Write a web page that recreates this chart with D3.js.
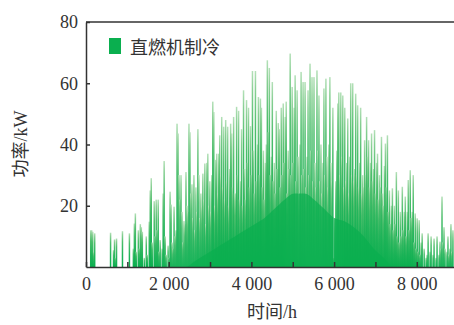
<!DOCTYPE html>
<html>
<head>
<meta charset="utf-8">
<script src="https://cdn.jsdelivr.net/npm/d3@7"></script>
<style>
  body { margin: 0; background: #fff; }
  svg { display: block; }
</style>
</head>
<body>
<div id="chart"></div>
<script>
// daily peak cooling power (kW), one value per 24 h
const dailyPeak = [
  0, 0, 0, 0, 12, 12, 11.5, 5, 11, 0,
  0, 0, 0, 0, 0, 0, 0, 0, 0, 0,
  0, 0, 0, 0, 11.2, 0, 0, 5.5, 9, 3,
  9.3, 0, 0, 0, 0, 0, 11.7, 0, 0, 0,
  0, 0, 0, 11, 0, 0, 0, 6, 14.2, 17.5,
  5, 0, 12, 6, 14, 13, 11.5, 0, 3, 0,
  10, 4, 0, 14.8, 25, 29, 8, 0, 21.5, 10,
  22, 12, 22, 5, 8.8, 0, 6, 24, 34.6, 10,
  4, 0, 7, 3, 24.6, 20.4, 8, 6, 19.7, 10,
  12, 46.8, 43.6, 30, 22, 30, 18, 8, 15, 14,
  31, 20, 18, 46.8, 44, 24, 27, 16, 30, 12,
  26, 18, 45, 30, 16, 24, 20, 30.5, 22, 33.8,
  14, 34, 37, 20, 28, 18, 30, 54, 50.6, 20,
  35, 37, 24, 37, 43, 30, 49, 26, 45.8, 22,
  48, 28, 45.8, 20, 32, 46.8, 43.6, 26, 49, 24,
  24, 52.3, 30, 51, 22, 28, 45, 20, 57.7, 32,
  22, 54.5, 34, 52, 26, 46, 30, 64, 38, 24,
  64, 28, 40, 55.5, 30, 55, 52, 26, 38, 22,
  34, 40, 67.5, 44, 65, 30, 36, 60.4, 28, 34,
  24, 51, 32, 47, 45, 26, 52, 30, 53.4, 34,
  49, 54, 24, 38, 32, 69.7, 30, 58.8, 34, 52,
  62.6, 28, 57.7, 36, 24, 40, 63.7, 30, 60.4, 32,
  60.4, 26, 36, 57.7, 30, 66.4, 38, 62, 28, 62,
  34, 26, 64.2, 38, 56, 28, 40, 24, 34, 58.3,
  30, 61.5, 36, 26, 40, 62, 34, 28, 52, 3,
  16, 28, 38, 53.4, 57, 30, 57, 36, 56, 26,
  52, 28, 34, 48.5, 24, 36, 60, 30, 60, 28,
  32, 56.6, 30, 52.8, 26, 34, 52, 24, 30, 26,
  41.4, 30, 49, 36, 41.4, 26, 34, 43.6, 28, 32,
  44.7, 24, 34, 37, 22, 30, 26, 42.5, 24, 20,
  33, 40.3, 26, 43, 18, 25, 14, 20, 25.7, 12,
  20, 14, 31, 10, 25, 8, 18, 10, 26.2, 12,
  18, 23, 10, 18, 28.4, 12, 31.6, 16, 18, 30,
  8, 17.5, 6, 15.9, 5, 15.3, 4, 8, 11, 0,
  6, 0, 3, 4, 11, 0, 5, 10, 0, 4,
  9.3, 0, 3, 10, 0, 4, 8.3, 6, 23, 8,
  13, 6, 0, 5, 10, 4, 6, 14, 5, 12
];

// level of the dense, solid part of the load, one value per 240 h
const baseLoad = [
  0, 0, 0, 0, 0, 0, 0, 0, 0, 0,
  0, 2, 4, 6, 8, 10, 12, 14, 16, 19,
  22, 24, 24, 22, 19, 16, 15, 13, 10, 6,
  3, 0, 0, 0, 0, 0, 0, 0
];

const xTicks = [0, 1000, 2000, 3000, 4000, 5000, 6000, 7000, 8000];
const xTickLabels = { 0: "0", 2000: "2 000", 4000: "4 000", 6000: "6 000", 8000: "8 000" };
const yTicks = [20, 40, 60, 80];
const legendLabel = "直燃机制冷";
const xTitle = "时间/h";
const yTitle = "功率/kW";

const width = 454, height = 325;
const plotLeft = 86, plotTop = 22, plotBottom = 267;
const green = "#0aaf4f";
const ink = "#333";
const serif = "'Liberation Serif', 'Noto Sans CJK SC', serif";

const svg = d3.select("#chart").append("svg")
  .attr("width", width)
  .attr("height", height);

const x = d3.scaleLinear().domain([0, 8900]).range([plotLeft, width]);
const y = d3.scaleLinear().domain([0, 80]).range([plotBottom, plotTop]);

const defs = svg.append("defs");

// gradient: light tips, saturated below
const grad = defs.append("linearGradient")
  .attr("id", "barGrad")
  .attr("x1", 0).attr("y1", 0).attr("x2", 0).attr("y2", 1);
grad.append("stop").attr("offset", "0%").attr("stop-color", "#b4e0b8");
grad.append("stop").attr("offset", "10%").attr("stop-color", "#86cf92");
grad.append("stop").attr("offset", "30%").attr("stop-color", "#4cbe6c");
grad.append("stop").attr("offset", "65%").attr("stop-color", "#22b45a");
grad.append("stop").attr("offset", "100%").attr("stop-color", green);

// bars slightly overlap so neighbouring days do not leave white seams
const barW = x(24) - x(0) + 0.5;
const days = dailyPeak.map((v, i) => ({ hour: i * 24, v })).filter(d => d.v > 0);

svg.append("g")
  .selectAll("rect")
  .data(days)
  .enter()
  .append("rect")
  .attr("x", d => x(d.hour))
  .attr("y", d => y(d.v))
  .attr("width", barW)
  .attr("height", d => plotBottom - y(d.v))
  .attr("fill", "url(#barGrad)");

// solid base load, only where there are bars
defs.append("clipPath")
  .attr("id", "barClip")
  .selectAll("rect")
  .data(days)
  .enter()
  .append("rect")
  .attr("x", d => x(d.hour))
  .attr("y", d => y(d.v))
  .attr("width", barW)
  .attr("height", d => plotBottom - y(d.v));

const area = d3.area()
  .x((d, i) => x(i * 240))
  .y0(y(0))
  .y1(d => y(d))
  .curve(d3.curveMonotoneX);

svg.append("path")
  .datum(baseLoad)
  .attr("d", area)
  .attr("fill", green)
  .attr("opacity", 0.75)
  .attr("clip-path", "url(#barClip)");

// axes
const xAxis = svg.append("g")
  .attr("transform", "translate(0," + plotBottom + ")")
  .call(d3.axisBottom(x)
    .tickValues(xTicks)
    .tickSizeInner(-5)
    .tickSizeOuter(0)
    .tickPadding(10)
    .tickFormat(d => xTickLabels[d] || ""));

const yAxis = svg.append("g")
  .attr("transform", "translate(" + plotLeft + ",0)")
  .call(d3.axisLeft(y)
    .tickValues(yTicks)
    .tickSizeInner(-4)
    .tickSizeOuter(0)
    .tickPadding(8));

[xAxis, yAxis].forEach(g => {
  g.select(".domain").attr("stroke", ink).attr("stroke-width", 1.5);
  g.selectAll(".tick line").attr("stroke", ink).attr("stroke-width", 1.5);
  g.selectAll(".tick text")
    .attr("fill", ink)
    .style("font-family", serif)
    .style("font-size", "18px");
});

// top frame line
svg.append("line")
  .attr("x1", plotLeft).attr("x2", width)
  .attr("y1", plotTop).attr("y2", plotTop)
  .attr("stroke", ink).attr("stroke-width", 1.5);

// titles
svg.append("text")
  .attr("x", 272).attr("y", 318)
  .attr("text-anchor", "middle")
  .attr("fill", ink)
  .style("font-family", serif)
  .style("font-size", "18px")
  .text(xTitle);

svg.append("text")
  .attr("transform", "translate(27,144) rotate(-90)")
  .attr("text-anchor", "middle")
  .attr("fill", ink)
  .style("font-family", serif)
  .style("font-size", "18px")
  .text(yTitle);

// legend
svg.append("rect")
  .attr("x", 109).attr("y", 38)
  .attr("width", 12).attr("height", 16)
  .attr("fill", green);

svg.append("text")
  .attr("x", 130).attr("y", 54)
  .attr("fill", ink)
  .style("font-family", serif)
  .style("font-size", "18px")
  .text(legendLabel);
</script>
</body>
</html>
